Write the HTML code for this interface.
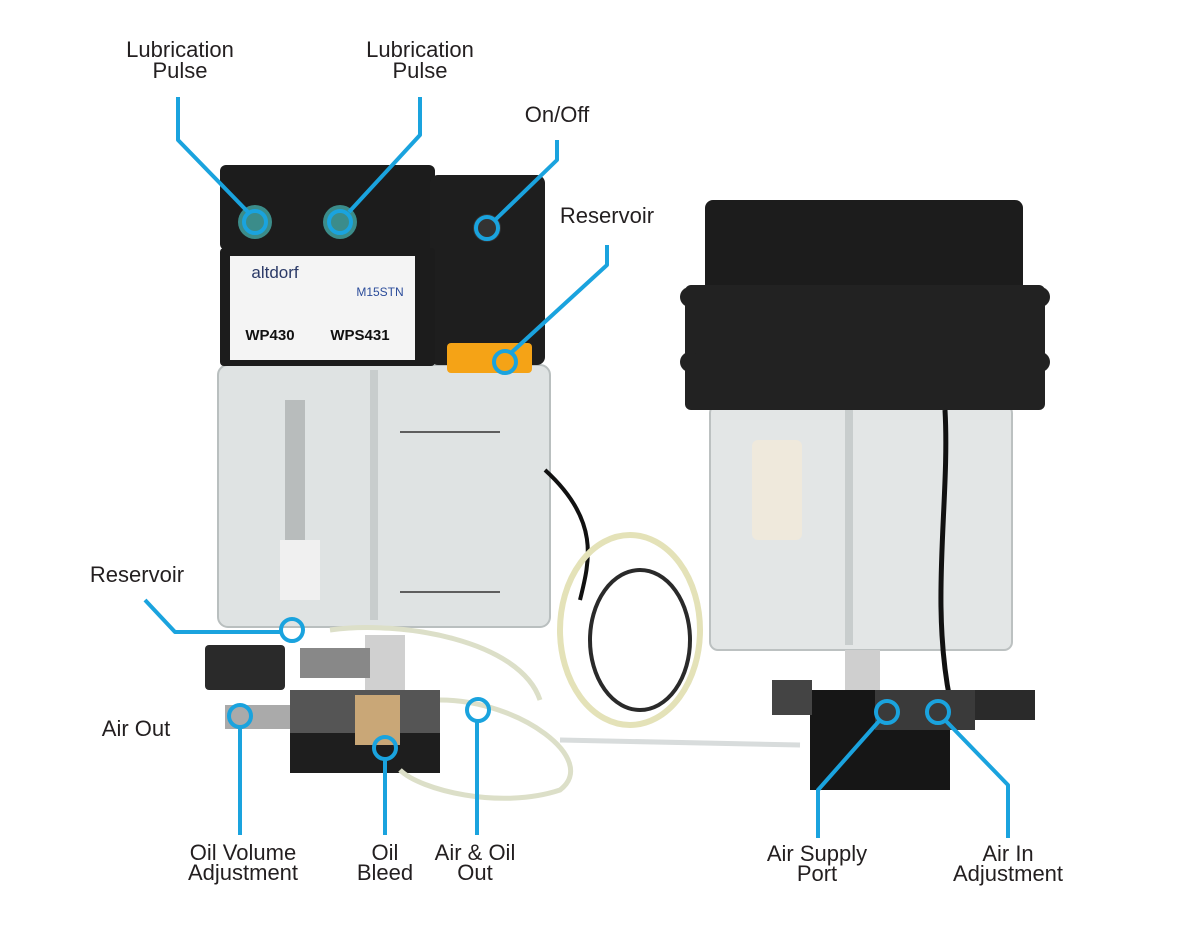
<!DOCTYPE html>
<html><head><meta charset="utf-8"><style>
html,body{margin:0;padding:0;background:#fff;}
svg{display:block}
text{font-family:"Liberation Sans",sans-serif;font-size:22px;fill:#231f20;text-anchor:middle}
</style></head><body>
<svg width="1200" height="930" viewBox="0 0 1200 930" xmlns="http://www.w3.org/2000/svg">
<rect width="1200" height="930" fill="#fff"/>
<!-- Left unit -->
<rect x="218" y="365" width="332" height="262" rx="10" fill="#dfe3e3" stroke="#b9bfbf" stroke-width="2"/>
<rect x="370" y="370" width="8" height="250" fill="#c8cdcd"/>
<rect x="285" y="400" width="20" height="170" fill="#b8bcbc"/>
<rect x="280" y="540" width="40" height="60" fill="#f0f0f0"/>
<line x1="400" y1="432" x2="500" y2="432" stroke="#333" stroke-width="1.5"/>
<line x1="400" y1="592" x2="500" y2="592" stroke="#333" stroke-width="1.5"/>
<rect x="220" y="165" width="215" height="85" rx="6" fill="#1c1c1c"/>
<rect x="430" y="175" width="115" height="190" rx="8" fill="#1e1e1e"/>
<rect x="220" y="248" width="215" height="118" rx="4" fill="#1c1c1c"/>
<rect x="230" y="256" width="185" height="104" fill="#f4f4f4"/>
<text x="275" y="278" style="font-size:17px;fill:#2b3a67">altdorf</text>
<text x="380" y="296" style="font-size:12px;fill:#2b4c9a">M15STN</text>
<text x="270" y="340" style="font-size:15px;font-weight:bold;fill:#111">WP430</text>
<text x="360" y="340" style="font-size:15px;font-weight:bold;fill:#111">WPS431</text>
<circle cx="255" cy="222" r="17" fill="#3b8c8a"/>
<circle cx="340" cy="222" r="17" fill="#3b8c8a"/>
<circle cx="487" cy="228" r="14" fill="#333"/>
<rect x="447" y="343" width="85" height="30" rx="4" fill="#f5a316"/>
<path d="M545 470 C600 520 590 560 580 600" stroke="#111" stroke-width="4" fill="none"/>
<!-- left bottom fittings -->
<rect x="205" y="645" width="80" height="45" rx="4" fill="#2a2a2a"/>
<rect x="290" y="690" width="150" height="45" fill="#555"/>
<rect x="290" y="733" width="150" height="40" fill="#1e1e1e"/>
<rect x="355" y="695" width="45" height="50" fill="#c9a777"/>
<rect x="365" y="635" width="40" height="55" fill="#d0d0d0"/>
<rect x="225" y="705" width="65" height="24" fill="#aaa"/>
<rect x="300" y="648" width="70" height="30" fill="#888"/>
<path d="M440 700 C520 700 600 760 560 790 C500 810 420 790 400 770" stroke="#dcdfc8" stroke-width="5" fill="none"/>
<path d="M330 630 C400 620 520 640 540 700" stroke="#dcdfc8" stroke-width="5" fill="none"/>
<!-- tubes middle -->
<ellipse cx="630" cy="630" rx="70" ry="95" fill="none" stroke="#e4e2b8" stroke-width="6"/>
<ellipse cx="640" cy="640" rx="50" ry="70" fill="none" stroke="#2a2a2a" stroke-width="4"/>
<path d="M560 740 L800 745" stroke="#d8dcdc" stroke-width="5"/>
<!-- Right unit -->
<rect x="710" y="405" width="302" height="245" rx="8" fill="#e3e6e6" stroke="#bcc1c1" stroke-width="2"/>
<rect x="845" y="410" width="8" height="235" fill="#c8cdcd"/>
<rect x="752" y="440" width="50" height="100" rx="6" fill="#efe9dc"/>
<rect x="705" y="200" width="318" height="120" rx="8" fill="#1c1c1c"/>
<rect x="685" y="285" width="360" height="125" rx="6" fill="#222"/>
<circle cx="690" cy="297" r="10" fill="#222"/><circle cx="1040" cy="297" r="10" fill="#222"/>
<circle cx="690" cy="362" r="10" fill="#222"/><circle cx="1040" cy="362" r="10" fill="#222"/>
<path d="M945 410 C950 500 930 600 950 700" stroke="#111" stroke-width="5" fill="none"/>
<rect x="845" y="650" width="35" height="45" fill="#cfcfcf"/>
<rect x="810" y="690" width="140" height="100" fill="#161616"/>
<rect x="875" y="690" width="100" height="40" fill="#3a3a3a"/>
<rect x="975" y="690" width="60" height="30" fill="#2a2a2a"/>
<rect x="772" y="680" width="40" height="35" fill="#444"/>
<!-- callouts -->
<g stroke="#1aa3de" stroke-width="4" fill="none" stroke-linejoin="round">
<polyline points="178,97 178,140 248,212"/>
<circle cx="255" cy="222" r="11"/>
<polyline points="420,97 420,135 349,212"/>
<circle cx="340" cy="222" r="11"/>
<polyline points="557,140 557,160 495,220"/>
<circle cx="487" cy="228" r="11"/>
<polyline points="607,245 607,265 512,352"/>
<circle cx="505" cy="362" r="11"/>
<polyline points="145,600 175,632 281,632"/>
<circle cx="292" cy="630" r="11"/>
<polyline points="240,727 240,835"/>
<circle cx="240" cy="716" r="11"/>
<polyline points="385,759 385,835"/>
<circle cx="385" cy="748" r="11"/>
<polyline points="477,721 477,835"/>
<circle cx="478" cy="710" r="11"/>
<polyline points="880,720 818,790 818,838"/>
<circle cx="887" cy="712" r="11"/>
<polyline points="945,720 1008,785 1008,838"/>
<circle cx="938" cy="712" r="11"/>
</g>
<text x="180" y="57">Lubrication</text><text x="180" y="78">Pulse</text>
<text x="420" y="57">Lubrication</text><text x="420" y="78">Pulse</text>
<text x="557" y="122">On/Off</text>
<text x="607" y="223">Reservoir</text>
<text x="137" y="582">Reservoir</text>
<text x="136" y="736">Air Out</text>
<text x="243" y="860">Oil Volume</text><text x="243" y="880">Adjustment</text>
<text x="385" y="860">Oil</text><text x="385" y="880">Bleed</text>
<text x="475" y="860">Air &amp; Oil</text><text x="475" y="880">Out</text>
<text x="817" y="861">Air Supply</text><text x="817" y="881">Port</text>
<text x="1008" y="861">Air In</text><text x="1008" y="881">Adjustment</text>
</svg>
</body></html>
